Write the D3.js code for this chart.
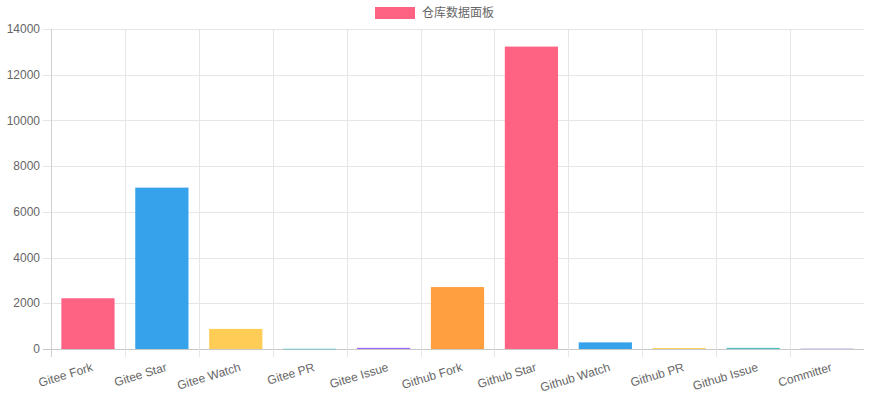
<!DOCTYPE html>
<html><head><meta charset="utf-8">
<script src="https://cdn.jsdelivr.net/npm/d3@7"></script>
<style>body{margin:0;background:#fff}svg{display:block}text{font-family:"Liberation Sans",Arial,"Noto Sans CJK SC",sans-serif;fill:#666}</style>
</head><body><svg id="c" width="876" height="411"></svg>
<script>
const categories = ["Gitee Fork","Gitee Star","Gitee Watch","Gitee PR","Gitee Issue","Github Fork","Github Star","Github Watch","Github PR","Github Issue","Committer"];
const values = [2220, 7060, 880, 10, 50, 2710, 13230, 290, 40, 50, 25];
const colors = ["#ff6384","#36a2eb","#ffcd56","#4bc0c0","#9966ff","#ff9f40","#ff6384","#36a2eb","#ffcd56","#4bc0c0","#c7b8f0"];
const yTicks = [0,2000,4000,6000,8000,10000,12000,14000];
const seriesName = "仓库数据面板";

const svg = d3.select("#c");
const L = 51, R = 864, T = 29, B = 349;
const x = d3.scaleBand().domain(categories).range([L, R]).paddingInner(0).paddingOuter(0);
const y = d3.scaleLinear().domain([0, 14000]).range([B, T]);

// horizontal grid
svg.append("g").selectAll("line").data(yTicks).join("line")
  .attr("x1", L - 8).attr("x2", R).attr("y1", d => Math.round(y(d)) + 0.5).attr("y2", d => Math.round(y(d)) + 0.5)
  .attr("stroke", d => d === 0 ? "#c8c8c8" : "#e6e6e6");
// vertical grid
svg.append("g").selectAll("line").data(categories).join("line")
  .attr("x1", d => Math.round(x(d)) + 0.5).attr("x2", d => Math.round(x(d)) + 0.5)
  .attr("y1", T).attr("y2", B + 8)
  .attr("stroke", (d, i) => i === 0 ? "#d0d0d0" : "#e6e6e6");

// y labels
svg.append("g").selectAll("text").data(yTicks).join("text")
  .attr("x", 40).attr("y", d => y(d)).attr("dy", "0.35em")
  .attr("text-anchor", "end").attr("font-size", 12).text(d => d);

// bars
const bw = x.bandwidth() * 0.72;
svg.append("g").selectAll("rect").data(values).join("rect")
  .attr("x", (d, i) => x(categories[i]) + (x.bandwidth() - bw) / 2)
  .attr("width", bw)
  .attr("y", d => y(d))
  .attr("height", d => Math.max(0.6, B - y(d)))
  .attr("fill", (d, i) => colors[i]);

// x labels
svg.append("g").selectAll("text").data(categories).join("text")
  .attr("transform", d => `translate(${x(d) + x.bandwidth() / 2 + 3},${362}) rotate(-17)`)
  .attr("text-anchor", "end").attr("dy", "0.75em").attr("font-size", 12).text(d => d);

// legend
svg.append("rect").attr("x", 375).attr("y", 7).attr("width", 40).attr("height", 12).attr("fill", colors[0]);
svg.append("text").attr("x", 422).attr("y", 13).attr("dy", "0.35em").attr("font-size", 12).text(seriesName);
</script></body></html>
